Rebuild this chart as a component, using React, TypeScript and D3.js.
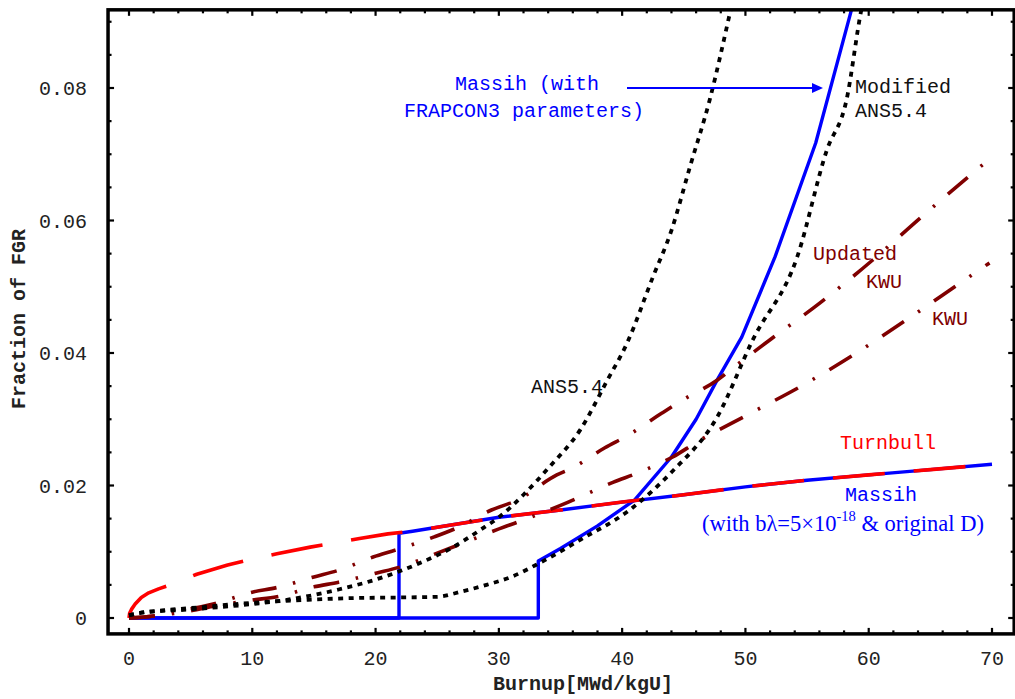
import React from "react";
import * as d3 from "d3";

type P = [number, number];

const massihFrapcon: P[] = [
  [0, 0], [33.2, 0], [33.2, 0.0086], [35, 0.0105], [38, 0.0139], [41, 0.0178], [44, 0.0243],
  [46, 0.030], [47.7, 0.0359], [49.7, 0.0424], [52.4, 0.0545], [55.7, 0.0717], [58.6, 0.0918], [59.2, 0.096],
];

const massihOrigD: P[] = [
  [0, 0], [21.9, 0], [21.9, 0.0128], [23, 0.0131], [26, 0.0140], [30, 0.0152], [35, 0.0163],
  [40, 0.0175], [45, 0.0186], [50, 0.0198], [55, 0.0208], [60, 0.0216], [65, 0.0224], [70, 0.0232],
];

const turnbull: P[] = [
  [0, 0], [0.05, 0.0007], [0.2, 0.0013], [0.5, 0.0021], [1.0, 0.0031], [1.6, 0.0038], [2.4, 0.0044],
  [3.2, 0.0049], [5.5, 0.0066], [8, 0.0080], [10, 0.0089], [12, 0.0097], [14.7, 0.0107], [16.3, 0.0112],
  [18.7, 0.0120], [21, 0.0127], [23, 0.0131], [26, 0.0140], [30, 0.0152], [35, 0.0163], [40, 0.0175],
  [45, 0.0186], [50, 0.0198], [55, 0.0208], [60, 0.0216], [65, 0.0224], [70, 0.0232],
];

const ans54: P[] = [
  [0, 0.0004], [1, 0.0008], [5, 0.0013], [10, 0.0021], [13, 0.0028], [17, 0.0043], [20, 0.0058],
  [23.6, 0.0083], [26, 0.0104], [28.5, 0.0133], [30, 0.0152], [32, 0.0186], [34, 0.0226], [36.6, 0.0284],
  [38.8, 0.0359], [40.4, 0.0415], [42.5, 0.0515], [44, 0.0585], [45.5, 0.0681], [47.1, 0.0782], [48.8, 0.0918], [49.3, 0.096],
];

const modifiedAns54: P[] = [
  [0, 0.0004], [1, 0.0008], [3, 0.0012], [5, 0.0015], [8, 0.0020], [10, 0.0023], [14, 0.0027], [18, 0.0030],
  [22, 0.0031], [25, 0.0032], [27, 0.0040], [29, 0.0050], [31, 0.0062], [33.3, 0.0083], [36.6, 0.0118],
  [40.6, 0.0163], [44, 0.0220], [47.7, 0.0303], [50.6, 0.042], [54.2, 0.0545], [56.6, 0.0706], [58.2, 0.0782],
  [59.4, 0.0918], [59.9, 0.096],
];

const updatedKwu: P[] = [
  [0, 0], [2, 0.0003], [3.5, 0.0010], [5, 0.0014], [7, 0.0022], [10, 0.0039], [12, 0.0046], [15, 0.0062],
  [17, 0.0072], [19.8, 0.0092], [21.7, 0.0103], [24.7, 0.0122], [26.6, 0.0136], [29.4, 0.0163], [31.5, 0.0178],
  [34.7, 0.0216], [36, 0.0227], [38.6, 0.0257], [40.5, 0.0276], [43.2, 0.0309], [44.9, 0.0329], [47.7, 0.0359],
  [49.3, 0.0382], [52, 0.042], [56, 0.0475], [60.3, 0.054], [64.2, 0.0604], [70, 0.0696],
];

const kwu: P[] = [
  [0, 0], [2, 0.0003], [5, 0.0011], [7, 0.0018], [10, 0.0027], [12, 0.0032], [15, 0.0047], [17, 0.0054],
  [20.1, 0.0068], [22, 0.0077], [25, 0.0098], [27.1, 0.0113], [29.8, 0.0133], [32, 0.0148], [35, 0.0170],
  [39.3, 0.0205], [41.4, 0.022], [44.1, 0.0243], [46.1, 0.0266], [50, 0.0305], [55, 0.0355], [59, 0.040],
  [63.3, 0.0453], [67.6, 0.0508], [69.8, 0.0536],
];

const xTicks = [0, 10, 20, 30, 40, 50, 60, 70];
const yTicks = [0, 0.02, 0.04, 0.06, 0.08];
const yTickLabels = ["0", "0.02", "0.04", "0.06", "0.08"];
const xMinorTicks = d3.range(0, 71, 2);
const yMinorTicks = d3.range(0, 0.0901, 0.005);

const X_DOMAIN: [number, number] = [-1.7, 71.8];
const Y_DOMAIN: [number, number] = [-0.0024, 0.0918];

const W = 1015;
const H = 699;

export default function App() {
  const x = d3.scaleLinear().domain([0, 70]).range([129, 992]);
  const y = d3.scaleLinear().domain([0, 0.08]).range([618, 88]);
  const x0 = x(X_DOMAIN[0]);
  const x1 = x(X_DOMAIN[1]);
  const y0 = y(Y_DOMAIN[0]);
  const y1 = y(Y_DOMAIN[1]);

  const lin = d3.line<P>().x((d) => x(d[0])).y((d) => y(d[1])).curve(d3.curveLinear);
  const smooth = d3.line<P>().x((d) => x(d[0])).y((d) => y(d[1])).curve(d3.curveMonotoneX);

  const mono = "'Liberation Mono', 'Courier New', monospace";
  const serif = "'Liberation Serif', 'Times New Roman', serif";
  const blue = "#0000ff";
  const dark = "#800000";

  const tickW = 2.2;
  return (
    <svg width={W} height={H} style={{ position: "absolute", left: 0, top: 0, background: "#fff" }}>
      <defs>
        <clipPath id="plot">
          <rect x={x0} y={y1} width={x1 - x0} height={y0 - y1} />
        </clipPath>
      </defs>
      <rect x={0} y={0} width={W} height={H} fill="#fff" />
      <g clipPath="url(#plot)" fill="none" strokeLinejoin="round">
        <path d={lin(massihOrigD) || ""} stroke={blue} strokeWidth={3.4} />
        <path d={lin(massihFrapcon) || ""} stroke={blue} strokeWidth={3.4} />
        <path d={lin(turnbull) || ""} stroke="#ff0000" strokeWidth={3.6} strokeDasharray="52,29" />
        <path d={smooth(updatedKwu) || ""} stroke={dark} strokeWidth={3.6} strokeDasharray="26,17,2.5,17" />
        <path d={smooth(kwu) || ""} stroke={dark} strokeWidth={3.6} strokeDasharray="26,17,2.5,17" />
        <path d={smooth(ans54) || ""} stroke="#000" strokeWidth={3.8} strokeDasharray="5,5.5" />
        <path d={smooth(modifiedAns54) || ""} stroke="#000" strokeWidth={3.8} strokeDasharray="5,5.5" />
      </g>

      {/* frame */}
      <rect x={x0} y={y1} width={x1 - x0} height={y0 - y1} fill="none" stroke="#000" strokeWidth={3.5} />

      {/* ticks */}
      <g stroke="#000" strokeWidth={tickW}>
        {xMinorTicks.map((t) => {
          const major = t % 10 === 0;
          const len = major ? 6 : 3.5;
          return (
            <g key={"xt" + t}>
              <line x1={x(t)} x2={x(t)} y1={y0} y2={y0 - len} />
              <line x1={x(t)} x2={x(t)} y1={y1} y2={y1 + len} />
            </g>
          );
        })}
        {yMinorTicks.map((t, i) => {
          const major = i % 4 === 0;
          const len = major ? 6 : 3.5;
          return (
            <g key={"yt" + i}>
              <line x1={x0} x2={x0 + len} y1={y(t)} y2={y(t)} />
              <line x1={x1} x2={x1 - len} y1={y(t)} y2={y(t)} />
            </g>
          );
        })}
      </g>

      {/* tick labels */}
      <g fontFamily={mono} fontSize={20} fill="#222">
        {xTicks.map((t) => (
          <text key={"xl" + t} x={x(t)} y={665} textAnchor="middle">
            {String(t)}
          </text>
        ))}
        {yTicks.map((t, i) => (
          <text key={"yl" + i} x={87} y={y(t) + 7} textAnchor="end">
            {yTickLabels[i]}
          </text>
        ))}
      </g>

      {/* axis titles */}
      <text x={583} y={690} textAnchor="middle" fontFamily={mono} fontSize={20} fontWeight="bold" fill="#222">
        Burnup[MWd/kgU]
      </text>
      <text
        transform={`translate(25,319) rotate(-90)`}
        textAnchor="middle"
        fontFamily={mono}
        fontSize={20}
        fontWeight="bold"
        fill="#222"
      >
        Fraction of FGR
      </text>

      {/* annotations */}
      <g fontFamily={mono} fontSize={20}>
        <text x={527} y={90} textAnchor="middle" fill={blue}>Massih (with</text>
        <text x={524} y={117} textAnchor="middle" fill={blue}>FRAPCON3 parameters)</text>
        <text x={855} y={93} fill="#111">Modified</text>
        <text x={855} y={117} fill="#111">ANS5.4</text>
        <text x={531} y={393} fill="#111">ANS5.4</text>
        <text x={813} y={260} fill={dark}>Updated</text>
        <text x={866} y={288} fill={dark}>KWU</text>
        <text x={932} y={325} fill={dark}>KWU</text>
        <text x={840} y={449} fill="#ff0000">Turnbull</text>
        <text x={845} y={501} fill={blue}>Massih</text>
      </g>
      <text x={843} y={531} textAnchor="middle" fontFamily={serif} fontSize={22.5} fill={blue}>
        (with bλ=5×10
        <tspan fontSize={14.5} dy={-10}>-18</tspan>
        <tspan dy={10}> &amp; original D)</tspan>
      </text>
      <line x1={627} x2={812} y1={88} y2={88} stroke={blue} strokeWidth={2} />
      <path d="M812,83 L823,88 L812,93 Z" fill={blue} />
    </svg>
  );
}
